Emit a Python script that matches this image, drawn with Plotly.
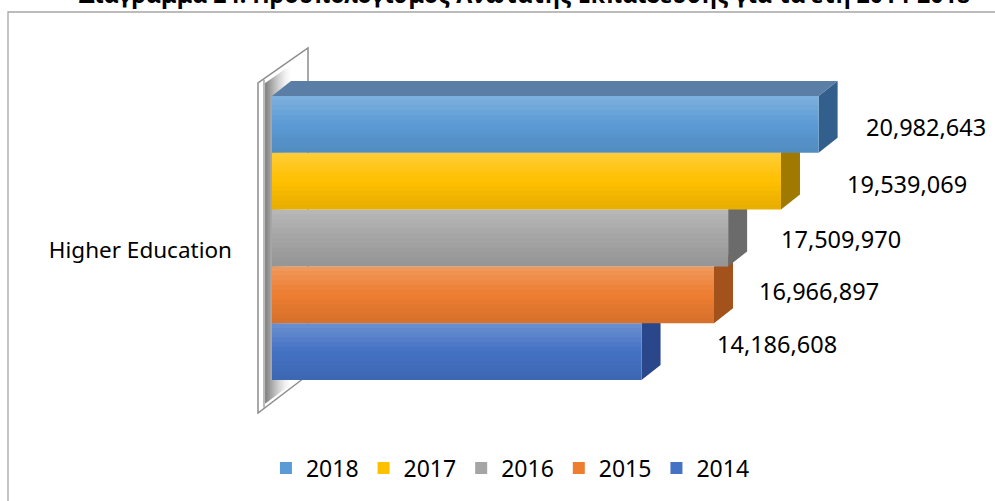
import plotly.graph_objects as go

# ---------------- data ----------------
categories = ["Higher Education"]
years = ["2014", "2015", "2016", "2017", "2018"]
values = [14186608, 16966897, 17509970, 19539069, 20982643]
title_text = "Διάγραμμα 24: Προϋπολογισμός Ανώτατης Εκπαίδευσης για τα έτη 2014-2018"

# ---------------- styles ----------------
front_colors = ["#4472C4", "#ED7D31", "#A5A5A5", "#FFC000", "#5B9BD5"]
side_colors = ["#29478A", "#A4521B", "#6B6B6B", "#A07A00", "#325F8C"]
top_color = "#5A7EA6"
label_xshift = [73, 43, 51, 64, 45]
label_yshift = [8, 4, -1, -3, -3]
FONT = "Noto Sans"

# ---------------- geometry (pixels) ----------------
W, H = 995, 501
PLOT_L, PLOT_R, PLOT_T, PLOT_B = 245, 995, 30, 440
ZERO_PX = 272
PX_PER_UNIT = 26.05e-6
GROUP_T, GROUP_B = 96, 380
BARGAP = 0.2
DX, DY = 19, 15

x_lo = -(ZERO_PX - PLOT_L) / PX_PER_UNIT
x_hi = (PLOT_R - ZERO_PX) / PX_PER_UNIT
u = (1 - BARGAP) / (GROUP_B - GROUP_T)
yc = (GROUP_T + GROUP_B) / 2
y_hi = (yc - PLOT_T) * u
y_lo = -(PLOT_B - yc) * u


def X(px):
    return (px - ZERO_PX) / PX_PER_UNIT


def Y(py):
    return (yc - py) * u


ddx = DX / PX_PER_UNIT
ddy = DY * u
ypos = list(range(len(categories)))
n = len(years)
slot = (1 - BARGAP) / n

fig = go.Figure()
for i, (yr, v) in enumerate(zip(years, values)):
    fig.add_trace(go.Bar(
        y=ypos, x=[v], orientation="h", name=yr,
        marker=dict(color=front_colors[i], line=dict(width=0)),
        hoverinfo="x+name",
    ))

shapes = []
# outer chart frame
shapes.append(dict(type="rect", xref="paper", yref="paper",
                   x0=8 / W, x1=1.2, y0=-0.2, y1=(H - 12) / H,
                   line=dict(color="#A6A6A6", width=1.3), layer="below"))


# back wall (3D panel at left)
def ytop(px):
    return 83 - 0.7 * (px - 258)


def ybot(px):
    return 413 - 0.75 * (px - 258)


wall = [(258, 413), (258, 83), (308, 48), (308, 375)]
path = "M " + " L ".join(f"{X(a)},{Y(b)}" for a, b in wall) + " Z"
shapes.append(dict(type="path", xref="x", yref="y", path=path,
                   fillcolor="white", line=dict(color="#8C8C8C", width=1.5), layer="below"))
# shadow gradient inside wall
x0s = 265
nstrip = 26
for k in range(nstrip):
    a = x0s + k
    b = a + 1.2
    op = 0.62 * (1 - k / nstrip) ** 1.6
    pts = [(a, ytop(a) + 5), (b, ytop(b) + 5), (b, ybot(b) - 4), (a, ybot(a) - 4)]
    p = "M " + " L ".join(f"{X(x)},{Y(y)}" for x, y in pts) + " Z"
    shapes.append(dict(type="path", xref="x", yref="y", path=p,
                       fillcolor="#404040", opacity=op, line=dict(width=0), layer="below"))
# inner edge of wall
shapes.append(dict(type="line", xref="x", yref="y",
                   x0=X(264), x1=X(264), y0=Y(ytop(264) + 1), y1=Y(ybot(264) - 1),
                   line=dict(color="#8C8C8C", width=1.2), layer="below"))

# side faces of bars
for i, v in enumerate(values):
    b = -(1 - BARGAP) / 2 + i * slot
    p = (f"M {v},{b} L {v + ddx},{b + ddy} L {v + ddx},{b + slot + ddy} "
         f"L {v},{b + slot} Z")
    shapes.append(dict(type="path", xref="x", yref="y", path=p,
                       fillcolor=side_colors[i], line=dict(width=0), layer="below"))
# top face of the top bar
top = (1 - BARGAP) / 2
vt = values[-1]
p = f"M 0,{top} L {vt},{top} L {vt + ddx},{top + ddy} L {ddx},{top + ddy} Z"
shapes.append(dict(type="path", xref="x", yref="y", path=p,
                   fillcolor=top_color, line=dict(width=0), layer="below"))

# light-to-dark shading bands over each bar front (gradient look)
NB = 12
for i, v in enumerate(values):
    b = -(1 - BARGAP) / 2 + i * slot
    for k in range(NB):
        t = (k + 0.5) / NB  # 0 = top, 1 = bottom
        y1 = b + slot * (1 - k / NB)
        y0 = b + slot * (1 - (k + 1) / NB)
        if t < 0.5:
            col, op = "white", 0.22 * (1 - 2 * t)
        else:
            col, op = "black", 0.10 * (2 * t - 1)
        shapes.append(dict(type="rect", xref="x", yref="y", x0=0, x1=v, y0=y0, y1=y1,
                           fillcolor=col, opacity=op, line=dict(width=0), layer="above"))

annotations = []
for i, v in enumerate(values):
    b = -(1 - BARGAP) / 2 + i * slot
    annotations.append(dict(
        x=v, y=b + slot / 2, xref="x", yref="y", text=f"{v:,}",
        showarrow=False, xanchor="left", yanchor="middle",
        xshift=label_xshift[i], yshift=label_yshift[i],
        font=dict(family=FONT, size=23.5, color="#000000"),
    ))
annotations.append(dict(
    x=0.527, y=(H - 12) / H, xref="paper", yref="paper", text=title_text,
    showarrow=False, xanchor="center", yanchor="bottom",
    font=dict(family=FONT, size=23.2, color="#000000", weight="bold"),
))

fig.update_layout(
    width=W, height=H, autosize=False,
    margin=dict(l=0, r=0, t=0, b=0),
    paper_bgcolor="white", plot_bgcolor="rgba(0,0,0,0)",
    barmode="group", bargap=BARGAP, bargroupgap=0,
    showlegend=True,
    legend=dict(orientation="h", x=0.513, xanchor="center",
                y=(H - 468) / H, yanchor="middle", traceorder="reversed",
                font=dict(family=FONT, size=23, color="#000000"),
                bgcolor="rgba(0,0,0,0)"),
    xaxis=dict(domain=[PLOT_L / W, PLOT_R / W], range=[x_lo, x_hi],
               visible=False, fixedrange=True),
    yaxis=dict(domain=[(H - PLOT_B) / H, (H - PLOT_T) / H], range=[y_lo, y_hi],
               tickvals=ypos, ticktext=categories, showgrid=False, zeroline=False,
               showline=False, ticks="", ticklabelstandoff=12, ticklabelshift=12,
               tickfont=dict(family=FONT, size=22.5, color="#000000"), fixedrange=True),
    shapes=shapes,
    annotations=annotations,
)

fig.write_html("out.html", config={"displayModeBar": False},
               post_script="document.body.style.margin='0px';")
